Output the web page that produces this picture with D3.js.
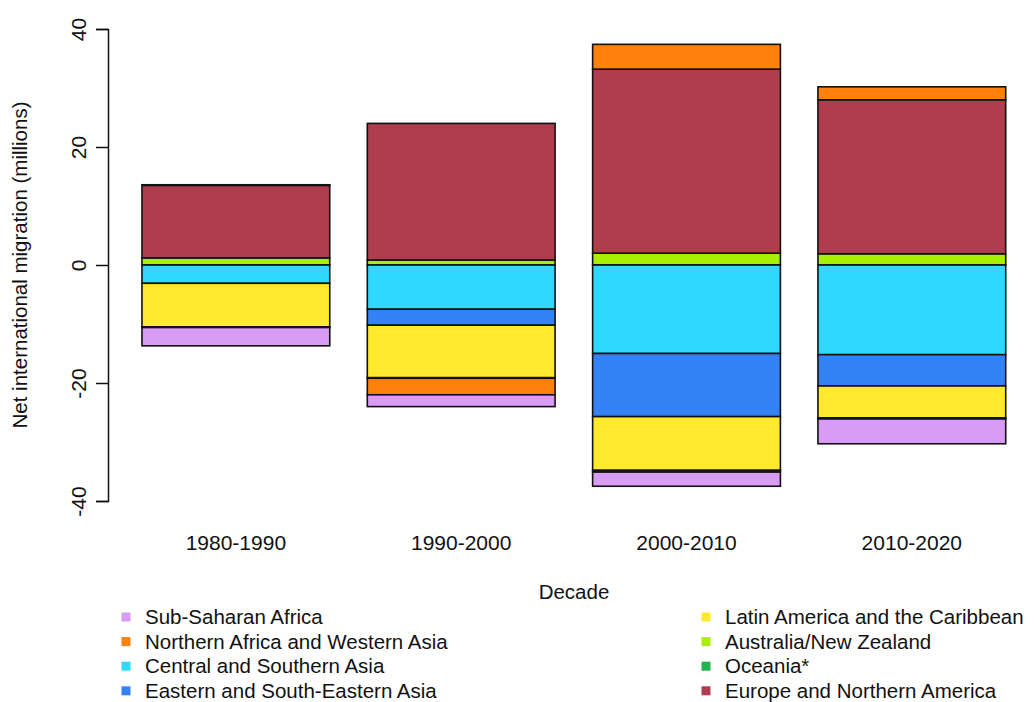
<!DOCTYPE html>
<html>
    <head>
        <meta charset="utf-8">
        <script src="https://d3js.org/d3.v7.min.js"></script>
        <style>
            body { margin: 0; background: #fff; }
            text { font-family: "Liberation Sans", Arial, sans-serif; fill: #111; }
        </style>
    </head>
    <body>
        <script>
            // decades on the x axis
            var decades = ['1980-1990', '1990-2000', '2000-2010', '2010-2020'];

            // net migration per region, millions
            var subSaharan      = [-3.1, -2.0, -2.4, -4.2];
            var northernAfrica  = [ 0.1, -2.8,  4.2,  2.2];
            var centralSouthern = [-3.1, -7.5, -15.0, -15.2];
            var easternSouthEast= [ 0.0, -2.7, -10.7, -5.3];
            var latinAmerica    = [-7.4, -8.9, -9.1, -5.4];
            var australiaNZ     = [ 1.2,  0.85, 2.0,  1.9];
            var oceania         = [-0.1, -0.1, -0.3, -0.2];
            var europeNA        = [12.3, 23.15, 31.2, 26.1];

            var yTicks = [-40, -20, 0, 20, 40];

            var legendNames = [
                'Sub-Saharan Africa', 'Northern Africa and Western Asia',
                'Central and Southern Asia', 'Eastern and South-Eastern Asia',
                'Latin America and the Caribbean', 'Australia/New Zealand',
                'Oceania*', 'Europe and Northern America'
            ];
            var legendColors = ['#d99cf5', '#ff800c', '#2ed8ff', '#3582f6',
                                '#ffe92c', '#a9ef00', '#1fb64f', '#af3d4d'];

            var series = {
                'Sub-Saharan Africa': subSaharan,
                'Northern Africa and Western Asia': northernAfrica,
                'Central and Southern Asia': centralSouthern,
                'Eastern and South-Eastern Asia': easternSouthEast,
                'Latin America and the Caribbean': latinAmerica,
                'Australia/New Zealand': australiaNZ,
                'Oceania*': oceania,
                'Europe and Northern America': europeNA
            };

            // stacking order (positives go up, negatives go down, in this order)
            var stackKeys = ['Australia/New Zealand', 'Central and Southern Asia',
                'Eastern and South-Eastern Asia', 'Latin America and the Caribbean',
                'Oceania*', 'Europe and Northern America',
                'Northern Africa and Western Asia', 'Sub-Saharan Africa'];

            var rows = decades.map(function(d, i) {
                var r = { decade: d };
                legendNames.forEach(function(k) { r[k] = series[k][i]; });
                return r;
            });

            var color = d3.scaleOrdinal().domain(legendNames).range(legendColors);

            var width = 1034, height = 702;

            var svg = d3.select('body')
                        .append('svg')
                        .attr('width', width)
                        .attr('height', height);

            var x = d3.scaleBand()
                      .domain(decades)
                      .range([123.2, 1024.5])
                      .paddingInner(1 / 6)
                      .paddingOuter(1 / 12);

            var y = d3.scaleLinear()
                      .domain([-40, 40])
                      .range([501, 29]);

            var stacked = d3.stack()
                            .keys(stackKeys)
                            .order(d3.stackOrderNone)
                            .offset(d3.stackOffsetDiverging)(rows);

            svg.append('g')
               .selectAll('g')
               .data(stacked)
               .enter().append('g')
                   .style('fill', function(d) { return color(d.key); })
               .selectAll('rect')
               .data(function(d) { return d; })
               .enter().append('rect')
                   .attr('x', function(d) { return x(d.data.decade); })
                   .attr('width', x.bandwidth())
                   .attr('y', function(d) { return y(Math.max(d[0], d[1])); })
                   .attr('height', function(d) { return Math.abs(y(d[0]) - y(d[1])); })
                   .style('stroke', '#111')
                   .style('stroke-width', 1.6);

            // y axis (plain hyphen for negatives, like R)
            var yAxis = svg.append('g')
                           .attr('transform', 'translate(108,0)')
                           .call(d3.axisLeft(y).tickValues(yTicks).tickSize(12)
                                   .tickFormat(function(d) { return String(d); }));
            yAxis.select('.domain').attr('stroke', '#111').attr('stroke-width', 1.5);
            yAxis.selectAll('.tick line').attr('stroke', '#111').attr('stroke-width', 1.5);
            yAxis.selectAll('.tick text')
                 .attr('x', 0).attr('y', 0).attr('dy', null)
                 .attr('transform', 'translate(-22,0) rotate(-90)')
                 .attr('text-anchor', 'middle')
                 .style('font-size', '21px')
                 .style('font-family', '"Liberation Sans", Arial, sans-serif')
                 .attr('fill', '#111');

            svg.append('text')
               .attr('transform', 'translate(27,' + y(0) + ') rotate(-90)')
               .attr('text-anchor', 'middle')
               .style('font-size', '20.5px')
               .text('Net international migration (millions)');

            // x labels
            svg.selectAll('.xlab')
               .data(decades)
               .enter().append('text')
                   .attr('class', 'xlab')
                   .attr('x', function(d) { return x(d) + x.bandwidth() / 2; })
                   .attr('y', 550)
                   .attr('text-anchor', 'middle')
                   .style('font-size', '21px')
                   .text(function(d) { return d; });

            svg.append('text')
               .attr('x', 574)
               .attr('y', 599)
               .attr('text-anchor', 'middle')
               .style('font-size', '20.5px')
               .text('Decade');

            // legend, two columns of four
            var leg = svg.selectAll('.leg')
                         .data(legendNames)
                         .enter().append('g')
                             .attr('class', 'leg')
                             .attr('transform', function(d, i) {
                                 var col = Math.floor(i / 4), row = i % 4;
                                 return 'translate(' + (col ? 706 : 126) + ',' + (617 + row * 24.6) + ')';
                             });
            leg.append('rect')
               .attr('x', -4.5).attr('y', -4.5)
               .attr('width', 9).attr('height', 9)
               .style('fill', function(d) { return color(d); });
            leg.append('text')
               .attr('x', 19)
               .attr('y', 7)
               .style('font-size', '20.5px')
               .text(function(d) { return d; });
        </script>
    </body>
</html>
